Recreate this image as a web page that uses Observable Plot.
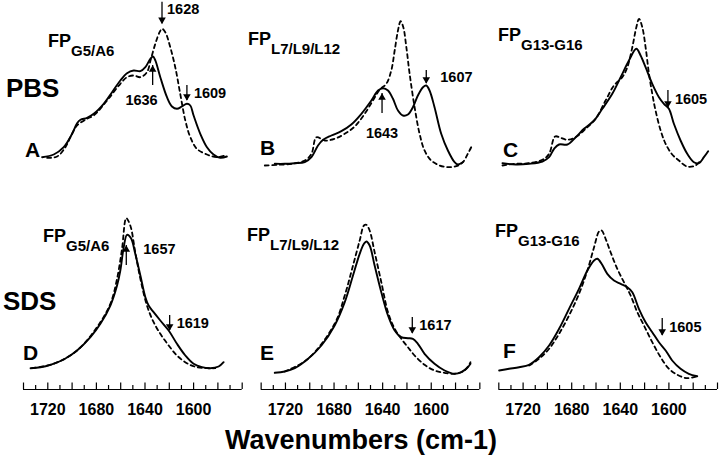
<!DOCTYPE html>
<html>
<head>
<meta charset="utf-8">
<script src="https://cdn.jsdelivr.net/npm/d3@7"></script>
<script src="https://cdn.jsdelivr.net/npm/@observablehq/plot@0.6"></script>
<style>
html, body { margin: 0; padding: 0; background: #fff; }
#wrap { position: relative; width: 720px; height: 466px; overflow: hidden;
  font-family: "Liberation Sans", Arial, Helvetica, sans-serif; font-weight: bold; color: #000; }
#wrap svg { position: absolute; left: 0; top: 0; }
.t { position: absolute; white-space: nowrap; }
.row { font-size: 26px; line-height: 26px; }
.let { font-size: 21px; line-height: 21px; }
.fp { font-size: 18px; line-height: 18px; }
.fp span { font-size: 15px; position: relative; top: 9px; }
.xt { font-size: 27px; line-height: 27px; left: 0; width: 722px; text-align: center; top: 427px; }
</style>
</head>
<body>
<div id="wrap">
  <div id="chart"></div>
  <div class="t row" style="left:6px;top:75px">PBS</div>
  <div class="t row" style="left:3px;top:288px">SDS</div>
  <div class="t let" style="left:25px;top:139px">A</div>
  <div class="t let" style="left:260px;top:137px">B</div>
  <div class="t let" style="left:503px;top:139px">C</div>
  <div class="t let" style="left:23px;top:342px">D</div>
  <div class="t let" style="left:260px;top:342px">E</div>
  <div class="t let" style="left:503px;top:340px">F</div>
  <div class="t fp" style="left:48px;top:32px">FP<span>G5/A6</span></div>
  <div class="t fp" style="left:248px;top:30px">FP<span>L7/L9/L12</span></div>
  <div class="t fp" style="left:498px;top:26px">FP<span>G13-G16</span></div>
  <div class="t fp" style="left:43px;top:227px">FP<span>G5/A6</span></div>
  <div class="t fp" style="left:247px;top:226px">FP<span>L7/L9/L12</span></div>
  <div class="t fp" style="left:495px;top:222px">FP<span>G13-G16</span></div>
  <div class="t xt">Wavenumbers (cm-1)</div>
</div>
<script>
// Panels: columns (peptides) and rows (solvents)
const peptides = ["G5/A6", "L7/L9/L12", "G13-G16"];
const solvents = ["PBS", "SDS"];
const tickLabels = [1720, 1680, 1640, 1600];

// [wavenumber (cm-1), absorbance (a.u.)]
const pbsG5A6Solid = [[1724.7,23.3],[1715.1,26.0],[1706.9,33.3],[1700.0,46.7],[1695.9,57.3],[1693.1,60.7],[1687.7,62.7],[1682.2,66.7],[1674.0,76.7],[1667.1,88.3],[1660.3,100.0],[1654.8,107.3],[1649.3,110.0],[1643.8,109.3],[1639.7,113.3],[1635.6,121.7],[1633.4,124.0],[1631.5,120.0],[1627.4,103.3],[1621.9,83.3],[1617.8,74.0],[1613.7,71.7],[1609.6,74.0],[1605.5,76.7],[1602.7,75.0],[1600.0,65.0],[1594.5,46.7],[1589.0,33.3],[1583.6,26.0],[1578.1,22.7],[1572.6,24.0]];
const pbsG5A6Dashed = [[1720.6,22.7],[1712.3,24.0],[1705.5,33.3],[1701.4,43.3],[1695.9,55.0],[1687.7,61.7],[1682.2,65.0],[1671.2,80.0],[1660.3,96.7],[1654.8,103.3],[1649.3,105.0],[1643.8,103.3],[1638.4,108.3],[1635.1,121.7],[1631.5,136.7],[1628.0,148.3],[1626.0,151.7],[1623.3,148.3],[1619.2,133.3],[1615.1,113.3],[1611.0,86.7],[1606.8,60.0],[1602.7,43.3],[1597.3,31.7],[1589.0,26.0],[1580.8,23.3],[1574.0,25.0]];
const pbsL7Solid = [[1728.8,16.7],[1720.6,16.7],[1712.3,17.3],[1704.1,18.3],[1698.6,23.3],[1693.2,35.0],[1689.0,40.7],[1682.2,45.0],[1674.0,49.3],[1665.8,56.0],[1657.5,66.7],[1649.3,80.0],[1643.8,90.0],[1639.7,92.3],[1635.6,90.0],[1631.5,81.7],[1627.4,70.0],[1623.3,65.0],[1619.2,66.0],[1615.1,73.3],[1611.0,85.0],[1606.8,93.3],[1604.1,95.0],[1601.4,90.0],[1597.3,73.3],[1591.8,46.7],[1586.3,30.0],[1580.8,18.3],[1578.1,16.0],[1574.0,18.3]];
const pbsL7Dashed = [[1737.0,15.0],[1726.0,15.7],[1715.1,16.7],[1704.1,20.0],[1698.6,26.7],[1694.5,43.3],[1687.7,40.0],[1679.5,41.7],[1671.2,46.7],[1663.0,54.0],[1654.8,66.7],[1648.0,80.0],[1642.5,90.7],[1637.0,96.7],[1632.9,110.0],[1630.1,130.0],[1627.4,150.0],[1625.2,159.3],[1623.0,153.3],[1620.5,133.3],[1617.8,106.7],[1613.7,73.3],[1609.6,46.7],[1605.5,30.0],[1600.0,20.0],[1593.1,15.0],[1586.3,13.3],[1579.4,14.3],[1574.0,18.3],[1569.9,26.7],[1567.1,33.3]];
const pbsG13Solid = [[1737.0,17.3],[1726.0,16.0],[1715.1,16.7],[1704.1,19.0],[1698.6,23.3],[1694.5,31.7],[1690.4,36.0],[1683.6,36.0],[1676.7,43.3],[1669.9,51.7],[1661.6,60.0],[1654.8,71.7],[1646.6,86.7],[1639.7,103.3],[1632.9,120.0],[1626.8,131.7],[1623.3,125.0],[1619.2,113.3],[1613.7,96.7],[1608.2,83.3],[1604.1,76.7],[1600.0,71.7],[1595.9,56.7],[1590.4,40.0],[1584.9,26.7],[1579.4,18.3],[1575.3,17.3],[1571.2,23.3],[1567.7,29.3]];
const pbsG13Dashed = [[1737.0,15.0],[1726.0,16.7],[1715.1,17.3],[1704.1,20.7],[1698.6,26.7],[1693.7,44.0],[1689.0,42.7],[1683.6,40.7],[1676.7,43.3],[1668.5,51.7],[1660.3,61.7],[1652.1,80.0],[1645.2,95.0],[1638.4,103.3],[1634.2,113.3],[1630.1,133.3],[1626.8,153.3],[1624.6,161.7],[1621.9,153.3],[1619.2,133.3],[1616.4,106.7],[1613.7,86.7],[1611.0,70.0],[1606.8,50.0],[1602.7,36.7],[1597.3,26.0],[1591.8,20.0],[1585.0,14.0],[1578.1,15.0],[1574.0,20.0]];
const sdsG5A6Solid = [[1734.2,21.3],[1726.0,22.3],[1717.8,24.7],[1706.9,30.0],[1695.9,39.0],[1684.9,52.3],[1676.7,65.7],[1668.5,84.0],[1663.0,104.0],[1660.3,119.0],[1657.5,142.3],[1654.8,154.7],[1651.5,151.3],[1648.0,135.7],[1643.8,114.0],[1639.7,92.3],[1637.0,84.0],[1632.9,77.3],[1627.4,69.0],[1620.5,59.0],[1613.7,45.7],[1606.8,34.0],[1600.0,25.7],[1593.1,22.3],[1586.3,21.3],[1579.4,23.0],[1575.3,27.3]];
const sdsG5A6Dashed = [[1732.9,21.3],[1715.1,25.7],[1695.9,39.0],[1679.5,62.3],[1668.5,85.7],[1663.0,110.7],[1658.9,140.7],[1655.4,171.3],[1652.1,164.0],[1648.0,137.3],[1643.8,110.7],[1638.4,84.0],[1632.9,67.3],[1627.4,55.7],[1620.5,44.0],[1613.7,34.0],[1605.5,26.3],[1597.3,22.3],[1589.0,21.3],[1582.2,21.3]];
const sdsL7Solid = [[1728.8,16.7],[1720.6,18.0],[1712.3,21.3],[1701.4,30.7],[1690.4,44.0],[1679.5,64.0],[1671.2,87.3],[1664.4,114.0],[1658.9,135.7],[1655.4,145.7],[1653.4,148.0],[1650.7,144.0],[1646.6,124.0],[1641.1,97.3],[1635.6,74.0],[1630.1,59.0],[1624.7,52.3],[1619.2,51.3],[1615.1,50.7],[1611.0,45.7],[1605.5,35.7],[1597.3,25.7],[1589.0,19.0],[1580.8,15.7],[1575.3,17.3],[1569.9,22.3],[1567.7,25.7]];
const sdsL7Dashed = [[1720.6,18.0],[1701.4,30.7],[1679.5,65.7],[1671.2,94.0],[1664.4,124.0],[1658.9,149.0],[1655.4,164.0],[1653.4,164.7],[1650.7,159.0],[1646.6,137.3],[1641.1,107.3],[1635.6,77.3],[1630.1,60.7],[1624.7,50.7],[1619.2,42.3],[1613.7,34.0],[1605.5,24.7],[1597.3,19.0],[1589.0,16.7],[1580.8,15.7],[1572.6,19.0],[1567.7,27.3]];
const sdsG13Solid = [[1739.7,19.0],[1731.5,20.7],[1723.3,22.3],[1715.1,24.7],[1706.9,32.3],[1698.6,44.0],[1690.4,60.7],[1682.2,80.7],[1674.0,100.7],[1667.1,119.0],[1661.6,129.0],[1658.9,130.7],[1655.4,125.7],[1650.7,115.7],[1645.2,109.0],[1639.7,105.7],[1634.2,102.3],[1630.1,97.3],[1624.7,80.7],[1619.2,67.3],[1613.7,57.3],[1608.2,47.3],[1602.7,39.0],[1597.3,29.0],[1590.4,20.7],[1583.6,15.7],[1576.7,13.3]];
const sdsG13Dashed = [[1715.1,24.0],[1706.9,30.7],[1698.6,40.7],[1690.4,55.7],[1682.2,74.0],[1674.0,95.7],[1667.1,119.0],[1661.6,142.3],[1657.5,158.0],[1655.4,159.0],[1652.1,150.7],[1648.0,137.3],[1642.5,120.7],[1637.0,107.3],[1631.5,94.0],[1626.0,77.3],[1620.5,64.0],[1613.7,47.3],[1606.8,32.3],[1600.0,20.7],[1593.1,14.7],[1584.9,11.3],[1576.7,13.3]];

// Band annotations: arrow position, tail and tip heights (a.u.), label
const bandArrows = [
  {fy:"PBS", fx:"G5/A6",     at:1626.0, from:178.3, to:156.7, label:"1628", place:"top"},
  {fy:"PBS", fx:"G5/A6",     at:1633.7, from:95,    to:115,   label:"1636", place:"belowLeft"},
  {fy:"PBS", fx:"G5/A6",     at:1605.5, from:95,    to:80,    label:"1609", place:"right"},
  {fy:"PBS", fx:"L7/L9/L12", at:1640.5, from:67,    to:87,    label:"1643", place:"below"},
  {fy:"PBS", fx:"L7/L9/L12", at:1604.1, from:110,   to:97,    label:"1607", place:"rightFar"},
  {fy:"PBS", fx:"G13-G16",   at:1600.8, from:90,    to:73,    label:"1605", place:"right"},
  {fy:"SDS", fx:"G5/A6",     at:1655.4, from:124,   to:144,   label:"1657", place:"topFar"},
  {fy:"SDS", fx:"G5/A6",     at:1619.7, from:74,    to:59,    label:"1619", place:"right"},
  {fy:"SDS", fx:"L7/L9/L12", at:1615.6, from:72,    to:56,    label:"1617", place:"right"},
  {fy:"SDS", fx:"G13-G16",   at:1605.5, from:71,    to:54,    label:"1605", place:"right"}
];

const curves = [
  ["PBS","G5/A6","solid",pbsG5A6Solid],["PBS","G5/A6","dashed",pbsG5A6Dashed],
  ["PBS","L7/L9/L12","solid",pbsL7Solid],["PBS","L7/L9/L12","dashed",pbsL7Dashed],
  ["PBS","G13-G16","solid",pbsG13Solid],["PBS","G13-G16","dashed",pbsG13Dashed],
  ["SDS","G5/A6","solid",sdsG5A6Solid],["SDS","G5/A6","dashed",sdsG5A6Dashed],
  ["SDS","L7/L9/L12","solid",sdsL7Solid],["SDS","L7/L9/L12","dashed",sdsL7Dashed],
  ["SDS","G13-G16","solid",sdsG13Solid],["SDS","G13-G16","dashed",sdsG13Dashed]
];
const spectra = curves.flatMap(([fy, fx, series, pts]) => pts.map(([w, a]) => ({fy, fx, series, w, a})));

const tickData = peptides.flatMap(fx => d3.range(1740, 1559, -10).map(w => ({fx, fy:"SDS", w, major: w % 20 === 0})));
const tickLabelData = peptides.flatMap(fx => tickLabels.map(w => ({fx, fy:"SDS", w})));
const baseLines = peptides.map(fx => ({fx, fy:"SDS"}));

const boldFont = {fontFamily:"Liberation Sans, Arial, sans-serif", fontWeight:"bold", fill:"#000"};
const downArrows = bandArrows.filter(d => d.to < d.from);
const upArrows = bandArrows.filter(d => d.to > d.from);
const byPlace = p => bandArrows.filter(d => d.place === p);
const upperEnd = d => Math.max(d.from, d.to);
const midShaft = d => (d.from + d.to) / 2;

const chart = Plot.plot({
  width: 720, height: 420,
  marginLeft: 23, marginRight: 3, marginTop: 6, marginBottom: 31,
  style: {background: "transparent", overflow: "visible", fontFamily: "Liberation Sans, Arial, sans-serif"},
  fx: {domain: peptides, paddingInner: 0.0798, paddingOuter: 0, round: false, axis: null, label: null},
  fy: {domain: solvents, paddingInner: 0.1675, paddingOuter: 0, round: false, axis: null, label: null},
  x: {domain: [1740, 1560], axis: null},
  y: {domain: [0, 174], axis: null},
  marks: [
    Plot.ruleY(baseLines, {y: 0, fx: "fx", fy: "fy", stroke: "#000", strokeWidth: 1.2}),
    Plot.ruleX(tickData, {x: "w", y1: 0, y2: d => d.major ? 6.5 : 4, fx: "fx", fy: "fy", stroke: "#000", strokeWidth: 1.2}),
    Plot.text(tickLabelData, {x: "w", y: 0, dy: 20, text: d => String(d.w), fx: "fx", fy: "fy", fontSize: 16, ...boldFont}),
    Plot.line(spectra.filter(d => d.series === "dashed"), {x: "w", y: "a", fx: "fx", fy: "fy", stroke: "#000", strokeWidth: 1.8, strokeDasharray: "4,3.5", curve: "catmull-rom"}),
    Plot.line(spectra.filter(d => d.series === "solid"), {x: "w", y: "a", fx: "fx", fy: "fy", stroke: "#000", strokeWidth: 1.9, curve: "catmull-rom"}),
    Plot.ruleX(bandArrows, {x: "at", y1: "from", y2: "to", fx: "fx", fy: "fy", stroke: "#000", strokeWidth: 1.3}),
    Plot.dot(downArrows, {x: "at", y: "to", fx: "fx", fy: "fy", symbol: "triangle", r: 2.8, rotate: 180, dy: -4, fill: "#000", stroke: "none"}),
    Plot.dot(upArrows, {x: "at", y: "to", fx: "fx", fy: "fy", symbol: "triangle", r: 2.8, dy: 4, fill: "#000", stroke: "none"}),
    Plot.text(byPlace("right"), {x: "at", y: midShaft, text: "label", fx: "fx", fy: "fy", dx: 7, textAnchor: "start", fontSize: 14.5, ...boldFont}),
    Plot.text(byPlace("rightFar"), {x: "at", y: midShaft, text: "label", fx: "fx", fy: "fy", dx: 14, textAnchor: "start", fontSize: 14.5, ...boldFont}),
    Plot.text(byPlace("top"), {x: "at", y: upperEnd, text: "label", fx: "fx", fy: "fy", dx: 5, dy: 7, textAnchor: "start", fontSize: 14.5, ...boldFont}),
    Plot.text(byPlace("topFar"), {x: "at", y: upperEnd, text: "label", fx: "fx", fy: "fy", dx: 17, dy: 4, textAnchor: "start", fontSize: 14.5, ...boldFont}),
    Plot.text(byPlace("below"), {x: "at", y: "from", text: "label", fx: "fx", fy: "fy", dy: 20, textAnchor: "middle", fontSize: 14.5, ...boldFont}),
    Plot.text(byPlace("belowLeft"), {x: "at", y: "from", text: "label", fx: "fx", fy: "fy", dx: 5, dy: 15, textAnchor: "end", fontSize: 14.5, ...boldFont})
  ]
});
document.getElementById("chart").appendChild(chart);
</script>
</body>
</html>
